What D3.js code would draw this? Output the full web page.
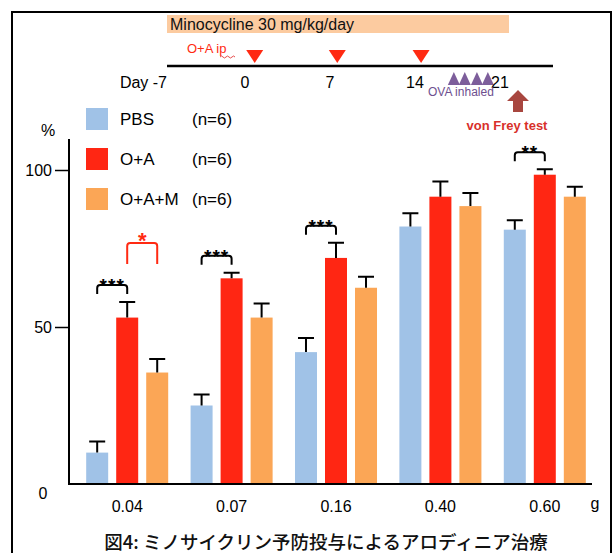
<!DOCTYPE html>
<html>
<head>
<meta charset="utf-8">
<script src="https://cdn.jsdelivr.net/npm/d3@7"></script>
<style>
  body { margin: 0; background: #fff; }
  svg { display: block; font-family: "Liberation Sans", Arial, sans-serif; }
</style>
</head>
<body>
<div id="graph"></div>
<script>
// data
var doses = ['0.04', '0.07', '0.16', '0.40', '0.60'];
var groups = ['PBS', 'O+A', 'O+A+M'];
var pbsMean = [10, 25, 42, 82, 81];
var pbsErr = [3.5, 3.5, 4.5, 4.2, 3];
var oaMean = [53, 65.5, 72, 91.5, 98.5];
var oaErr = [5, 1.8, 4.8, 4.8, 1.7];
var oamMean = [35.5, 53, 62.5, 88.5, 91.5];
var oamErr = [4.3, 4.5, 3.5, 4.2, 3.2];
var yTicks = [50, 100];
var days = [-7, 0, 7, 14, 21];
var injectDays = [0.8, 7.6, 14.5];
var inhaleDays = [17.2, 18.1, 19.1, 20];
// significance: [dose index, from group, to group, label, colour]
var sigs = [
  [0, 0, 1, '***', '#000'],
  [0, 1, 2, '*', '#ff2a12'],
  [1, 0, 1, '***', '#000'],
  [2, 0, 1, '***', '#000'],
  [4, 0, 1, '**', '#000']
];

var width = 614, height = 553;
var colors = {'PBS': '#a0c2e7', 'O+A': '#ff2613', 'O+A+M': '#fba656'};

var svg = d3.select('#graph').append('svg').attr('width', width).attr('height', height);

// outer frame
svg.append('path')
  .attr('d', 'M12,560 V12 H611 V560')
  .attr('fill', 'none').attr('stroke', '#000').attr('stroke-width', 2);

// ---- timeline at the top ----
var day = d3.scaleLinear().domain([0, 21]).range([245, 500]);

svg.append('rect')
  .attr('x', 167).attr('y', 15).attr('width', 342).attr('height', 18)
  .attr('fill', '#fccba0');
svg.append('text')
  .attr('x', 170).attr('y', 30).attr('font-size', 16).attr('fill', '#111')
  .text('Minocycline 30 mg/kg/day');

svg.append('line')
  .attr('x1', 167).attr('x2', 553).attr('y1', 66).attr('y2', 66)
  .attr('stroke', '#000').attr('stroke-width', 2.5);

svg.append('text')
  .attr('x', 187).attr('y', 53).attr('font-size', 13).attr('fill', '#ff2a12')
  .text('O+A ip');
svg.append('path')
  .attr('d', 'M220,57 q1.5,-2 3,0 t3,0 t3,0 t3,0 t3,0')
  .attr('fill', 'none').attr('stroke', '#e02020').attr('stroke-width', 0.8);

svg.selectAll('.inj').data(injectDays).enter().append('path')
  .attr('class', 'inj')
  .attr('d', d => 'M' + (day(d) - 8.5) + ',50 L' + (day(d) + 8.5) + ',50 L' + day(d) + ',63 Z')
  .attr('fill', '#ff2a12');

svg.selectAll('.ova').data(inhaleDays).enter().append('path')
  .attr('class', 'ova')
  .attr('d', d => 'M' + (day(d) - 6) + ',85 L' + (day(d) + 6) + ',85 L' + day(d) + ',72 Z')
  .attr('fill', '#7d5e9b');

svg.selectAll('.day').data(days).enter().append('text')
  .attr('class', 'day')
  .attr('x', d => d === -7 ? 167 : day(d))
  .attr('y', 88).attr('font-size', 16).attr('fill', '#000')
  .attr('text-anchor', d => d === -7 ? 'end' : 'middle')
  .text(d => d === -7 ? 'Day -7' : d);

svg.append('text')
  .attr('x', 428).attr('y', 96).attr('font-size', 12).attr('fill', '#6e4f8f')
  .text('OVA inhaled');

svg.append('path')
  .attr('d', 'M518,90 L529,101 L523,101 L523,112 L513,112 L513,101 L507,101 Z')
  .attr('fill', '#a8463f');
svg.append('text')
  .attr('x', 507).attr('y', 130).attr('font-size', 13).attr('font-weight', 'bold')
  .attr('fill', '#d8302a').attr('text-anchor', 'middle')
  .text('von Frey test');

// ---- bar chart ----
var x0 = d3.scaleBand().domain(doses).range([75, 597]).paddingInner(0).paddingOuter(0);
var x1 = d3.scaleBand().domain(groups)
  .range([x0.bandwidth() / 2 - 45, x0.bandwidth() / 2 + 45])
  .paddingInner(0.267).paddingOuter(0.133);
var y = d3.scaleLinear().domain([0, 100]).range([484, 170]);

var data = doses.map((d, i) => ({
  dose: d,
  values: [
    {key: 'PBS', value: pbsMean[i], err: pbsErr[i]},
    {key: 'O+A', value: oaMean[i], err: oaErr[i]},
    {key: 'O+A+M', value: oamMean[i], err: oamErr[i]}
  ]
}));

var g = svg.append('g');
var grp = g.selectAll('.grp').data(data).enter().append('g')
  .attr('class', 'grp')
  .attr('transform', d => 'translate(' + x0(d.dose) + ',0)');

grp.selectAll('rect').data(d => d.values).enter().append('rect')
  .attr('x', d => x1(d.key))
  .attr('y', d => y(d.value))
  .attr('width', x1.bandwidth())
  .attr('height', d => y(0) - y(d.value))
  .attr('fill', d => colors[d.key]);

// error bars
grp.selectAll('.err').data(d => d.values).enter().append('path')
  .attr('class', 'err')
  .attr('d', d => {
    var cx = x1(d.key) + x1.bandwidth() / 2;
    var top = y(d.value + d.err);
    return 'M' + cx + ',' + y(d.value) + ' V' + top + ' M' + (cx - 8) + ',' + top + ' H' + (cx + 8);
  })
  .attr('fill', 'none').attr('stroke', '#000').attr('stroke-width', 2);

// significance brackets
sigs.forEach(s => {
  var d = data[s[0]];
  var a = d.values[s[1]], b = d.values[s[2]];
  var xa = x0(d.dose) + x1(a.key) + x1.bandwidth() / 2;
  var xb = x0(d.dose) + x1(b.key) + x1.bandwidth() / 2;
  var red = s[4] !== '#000';
  var top = y(Math.max(a.value + a.err, b.value + b.err)) - (red ? 59 : 17);
  var leg = red ? 21 : 9;
  g.append('path')
    .attr('d', 'M' + xa + ',' + (top + leg) + ' V' + (top + 3) + ' Q' + xa + ',' + top + ' ' + (xa + 3) + ',' + top +
      ' H' + (xb - 3) + ' Q' + xb + ',' + top + ' ' + xb + ',' + (top + 3) + ' V' + (top + leg))
    .attr('fill', 'none').attr('stroke', s[4]).attr('stroke-width', 2);
  g.append('text')
    .attr('x', (xa + xb) / 2).attr('y', top + (red ? 5 : 7))
    .attr('text-anchor', 'middle').attr('font-size', red ? 22 : 19).attr('font-weight', 'bold')
    .attr('fill', s[4])
    .attr('letter-spacing', red ? 0 : 1)
    .text(s[3]);
});

// axes
g.append('line')
  .attr('x1', 69).attr('x2', 69).attr('y1', 139).attr('y2', y(0) + 1)
  .attr('stroke', '#000').attr('stroke-width', 2);
g.append('line')
  .attr('x1', 68).attr('x2', 592).attr('y1', y(0)).attr('y2', y(0))
  .attr('stroke', '#000').attr('stroke-width', 2);

var yAxis = g.append('g')
  .attr('transform', 'translate(69,0)')
  .call(d3.axisLeft(y).tickValues(yTicks).tickSize(14).tickPadding(3));
yAxis.select('.domain').remove();
yAxis.selectAll('line').attr('stroke-width', 1.5);
yAxis.selectAll('text').attr('font-size', 16).attr('font-family', '"Liberation Sans", Arial, sans-serif');

g.append('text').attr('x', 43).attr('y', y(0) + 15).attr('text-anchor', 'middle')
  .attr('font-size', 16).text('0');
g.append('text').attr('x', 48).attr('y', 136).attr('text-anchor', 'middle')
  .attr('font-size', 16).text('%');

var xAxis = g.append('g')
  .attr('transform', 'translate(0,' + y(0) + ')')
  .call(d3.axisBottom(x0).tickSize(0).tickPadding(17));
xAxis.select('.domain').remove();
xAxis.selectAll('text').attr('font-size', 16).attr('font-family', '"Liberation Sans", Arial, sans-serif');

g.append('text').attr('x', 595).attr('y', 509).attr('text-anchor', 'middle')
  .attr('font-size', 16).text('g');

// legend
var legend = g.selectAll('.legend').data(groups).enter().append('g')
  .attr('class', 'legend')
  .attr('transform', (d, i) => 'translate(86,' + (108 + i * 40) + ')');
legend.append('rect').attr('width', 22).attr('height', 22).attr('fill', d => colors[d]);
legend.append('text').attr('x', 34).attr('y', 17).attr('font-size', 17).text(d => d);
legend.append('text').attr('x', 106).attr('y', 17).attr('font-size', 17).text('(n=6)');

// caption
svg.append('text')
  .attr('x', 326).attr('y', 549).attr('text-anchor', 'middle')
  .attr('font-family', '"Noto Sans CJK JP", sans-serif').attr('font-size', 18.5)
  .attr('font-weight', 500).attr('fill', '#111')
  .text('図4: ミノサイクリン予防投与によるアロディニア治療');
</script>
</body>
</html>
